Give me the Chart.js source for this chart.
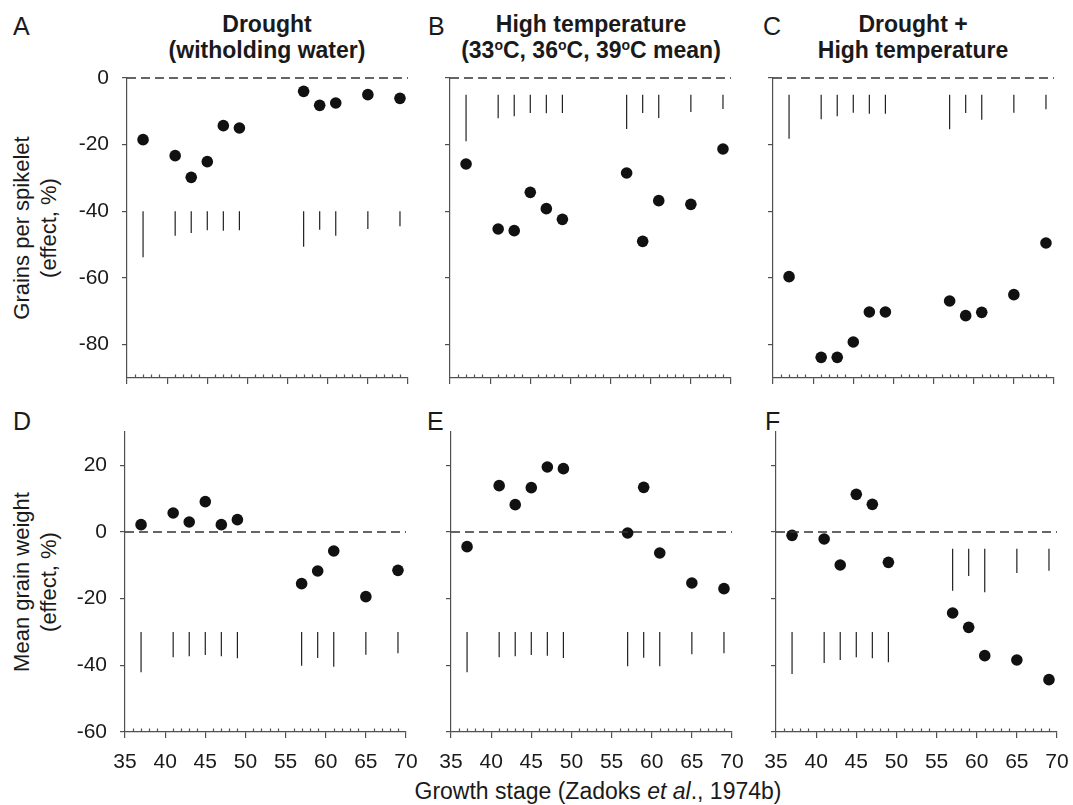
<!DOCTYPE html>
<html>
<head>
<meta charset="utf-8">
<script src="https://cdn.jsdelivr.net/npm/chart.js@4.4.0/dist/chart.umd.min.js"></script>
<style>
  body { margin: 0; background: #fff; width: 1073px; height: 805px; position: relative; overflow: hidden;
         font-family: "Liberation Sans", Arial, sans-serif; color: #1a1a1a; }
  canvas { position: absolute; }
  .lbl { position: absolute; white-space: nowrap; }
  .letter { font-size: 25px; line-height: 25px; }
  .title { font-size: 23px; font-weight: bold; line-height: 26px; text-align: center; width: 340px; }
  .title sup { font-size: 14px; vertical-align: 8px; line-height: 0; }
  .ytitle { font-size: 22px; line-height: 27px; text-align: center; width: 300px; height: 54px; transform: rotate(-90deg); }
  .xtitle { font-size: 23px; line-height: 23px; text-align: center; width: 600px; }
</style>
</head>
<body>

<div class="lbl letter" style="left:13px;top:14px">A</div>
<div class="lbl letter" style="left:428px;top:14px">B</div>
<div class="lbl letter" style="left:763px;top:14px">C</div>
<div class="lbl letter" style="left:13px;top:409px">D</div>
<div class="lbl letter" style="left:427px;top:409px">E</div>
<div class="lbl letter" style="left:765px;top:409px">F</div>

<div class="lbl title" style="left:97px;top:11px">Drought<br>(witholding water)</div>
<div class="lbl title" style="left:421px;top:11px">High temperature<br>(33<sup>o</sup>C, 36<sup>o</sup>C, 39<sup>o</sup>C mean)</div>
<div class="lbl title" style="left:743px;top:11px">Drought +<br>High temperature</div>

<div class="lbl ytitle" style="left:-115px;top:201px">Grains per spikelet<br>(effect, %)</div>
<div class="lbl ytitle" style="left:-115px;top:555px">Mean grain weight<br>(effect, %)</div>

<div class="lbl xtitle" style="left:298px;top:780px">Growth stage (Zadoks <i>et al</i>., 1974b)</div>

<script>
// growth stages (Zadoks) at which stress was applied
const stages = [37, 41, 43, 45, 47, 49, 57, 59, 61, 65, 69];
const xTicks = [35, 40, 45, 50, 55, 60, 65, 70];
const yTicksGrains = [0, -20, -40, -60, -80];
const yTicksWeight = [20, 0, -20, -40, -60];

// grains per spikelet (effect, %)
const grainsDrought = [-18.5, -23.3, -29.8, -25.1, -14.3, -15, -4, -8.2, -7.5, -5, -6.1];
const grainsHeat = [-25.8, -45.3, -45.8, -34.3, -39.2, -42.4, -28.5, -49, -36.8, -37.9, -21.3];
const grainsBoth = [-59.6, -83.8, -83.8, -79.2, -70.2, -70.2, -66.9, -71.3, -70.3, -65, -49.5];

// mean grain weight (effect, %)
const weightDrought = [2.2, 5.7, 3, 9.1, 2.2, 3.7, -15.5, -11.7, -5.7, -19.4, -11.5];
const weightHeat = [-4.4, 13.9, 8.2, 13.3, 19.5, 19, -0.3, 13.4, -6.3, -15.3, -17];
const weightBoth = [-1, -2.1, -9.9, 11.3, 8.3, -9.1, -24.3, -28.6, -37.1, -38.4, -44.3];

// LSD bars: start and end of each vertical bar
const lsdFromA = [-40, -40, -40, -40, -40, -40, -40, -40, -40, -40, -40];
const lsdToA = [-53.8, -47.3, -46.5, -45.7, -45.8, -45.7, -50.6, -45.5, -47.3, -45.3, -44.5];
const lsdFromB = [-5, -5, -5, -5, -5, -5, -5, -5, -5, -5, -5];
const lsdToB = [-19, -12.1, -11.5, -10.5, -10.6, -10.5, -15.3, -10.5, -12, -10.2, -9.3];
const lsdFromC = [-5, -5, -5, -5, -5, -5, -5, -5, -5, -5, -5];
const lsdToC = [-18.2, -12.4, -11.5, -10.4, -10.7, -10.7, -15.4, -10.5, -12.5, -10.4, -9.4];
const lsdFromD = [-30, -30, -30, -30, -30, -30, -30, -30, -30, -30, -30];
const lsdToD = [-42.1, -37.6, -37.3, -36.9, -37.3, -37.9, -40.1, -37.8, -40.4, -36.8, -36.4];
const lsdFromE = [-30, -30, -30, -30, -30, -30, -30, -30, -30, -30, -30];
const lsdToE = [-42.1, -37.6, -37.3, -36.9, -37.1, -37.8, -40.3, -37.7, -40.3, -36.7, -36.4];
const lsdFromF = [-30, -30, -30, -30, -30, -30, -5, -5, -5, -5, -5];
const lsdToF = [-42.6, -39.3, -38.4, -37.6, -37.9, -39.1, -17.6, -13.2, -18.1, -12.3, -11.6];

const FONT = '"Liberation Sans", Arial, sans-serif';
const AXIS = '#505050';
const PLOT_W = 281, PLOT_H = 300;

// small inward ticks on x axis at every unit
const minorTicks = {
  id: 'minorTicks',
  afterDraw(chart) {
    const { ctx, chartArea } = chart;
    const x = chart.scales.x;
    ctx.save();
    ctx.strokeStyle = AXIS;
    ctx.lineWidth = 1.2;
    for (let v = 36; v < 70; v++) {
      if (v % 5 === 0) continue;
      const px = Math.round(x.getPixelForValue(v)) + 0.5;
      ctx.beginPath();
      ctx.moveTo(px, chartArea.bottom);
      ctx.lineTo(px, chartArea.bottom - 3.5);
      ctx.stroke();
    }
    ctx.restore();
  }
};

function makePanel(p) {
  const padTop = 20, padRight = 22, yW = 80;
  const xH = p.bottomRow ? 50 : 12;
  const cv = document.createElement('canvas');
  cv.width = yW + PLOT_W + padRight;
  cv.height = padTop + PLOT_H + xH;
  cv.style.left = (p.left - yW) + 'px';
  cv.style.top = (p.top - padTop) + 'px';
  document.body.appendChild(cv);

  const bars = [];
  stages.forEach((s, i) => {
    bars.push({ x: s, y: p.from[i] }, { x: s, y: p.to[i] }, { x: s, y: null });
  });

  new Chart(cv, {
    type: 'scatter',
    data: {
      datasets: [
        { type: 'line', data: [{ x: 35, y: 0 }, { x: 70, y: 0 }], borderColor: '#333', borderWidth: 1.4,
          borderDash: [9, 5], pointRadius: 0, clip: false },
        { type: 'line', data: bars, borderColor: '#222', borderWidth: 1.2, pointRadius: 0,
          spanGaps: false, clip: false },
        { data: stages.map((s, i) => ({ x: s, y: p.values[i] })), backgroundColor: '#111',
          borderWidth: 0, pointRadius: 5.8, clip: false }
      ]
    },
    options: {
      responsive: false,
      animation: false,
      layout: { padding: { top: padTop, right: padRight, left: 0, bottom: 0 } },
      plugins: { legend: { display: false }, tooltip: { enabled: false } },
      scales: {
        x: {
          type: 'linear', min: 35, max: 70,
          afterBuildTicks: s => { s.ticks = xTicks.map(v => ({ value: v })); },
          afterFit: s => { s.height = xH; s.paddingLeft = 0; s.paddingRight = 0; },
          grid: { drawOnChartArea: false, drawTicks: true, tickLength: 6, color: AXIS, lineWidth: 1.2 },
          border: { display: true, color: AXIS, width: 1.2 },
          ticks: { display: p.bottomRow, autoSkip: false, maxRotation: 0, padding: 12, color: '#1a1a1a',
                   font: { family: FONT, size: 21 }, callback: v => String(v) }
        },
        y: {
          type: 'linear', min: p.yMin, max: p.yMax,
          afterBuildTicks: s => { s.ticks = p.yTicks.map(v => ({ value: v })); },
          afterFit: s => { s.width = yW; s.paddingTop = 0; s.paddingBottom = 0; },
          grid: { drawOnChartArea: false, drawTicks: true, tickLength: 5, color: AXIS, lineWidth: 1.2 },
          border: { display: true, color: AXIS, width: 1.2 },
          ticks: { display: p.leftCol, padding: 13, color: '#1a1a1a',
                   font: { family: FONT, size: 21 }, callback: v => String(v) }
        }
      }
    },
    plugins: [minorTicks]
  });
}

const topRow = { top: 78, yMin: -90, yMax: 0, yTicks: yTicksGrains, bottomRow: false };
const botRow = { top: 432, yMin: -60, yMax: 30, yTicks: yTicksWeight, bottomRow: true };

makePanel({ ...topRow, left: 127, leftCol: true, values: grainsDrought, from: lsdFromA, to: lsdToA });
makePanel({ ...topRow, left: 450, leftCol: false, values: grainsHeat, from: lsdFromB, to: lsdToB });
makePanel({ ...topRow, left: 773, leftCol: false, values: grainsBoth, from: lsdFromC, to: lsdToC });
makePanel({ ...botRow, left: 125, leftCol: true, values: weightDrought, from: lsdFromD, to: lsdToD });
makePanel({ ...botRow, left: 451, leftCol: false, values: weightHeat, from: lsdFromE, to: lsdToE });
makePanel({ ...botRow, left: 776, leftCol: false, values: weightBoth, from: lsdFromF, to: lsdToF });
</script>
</body>
</html>
